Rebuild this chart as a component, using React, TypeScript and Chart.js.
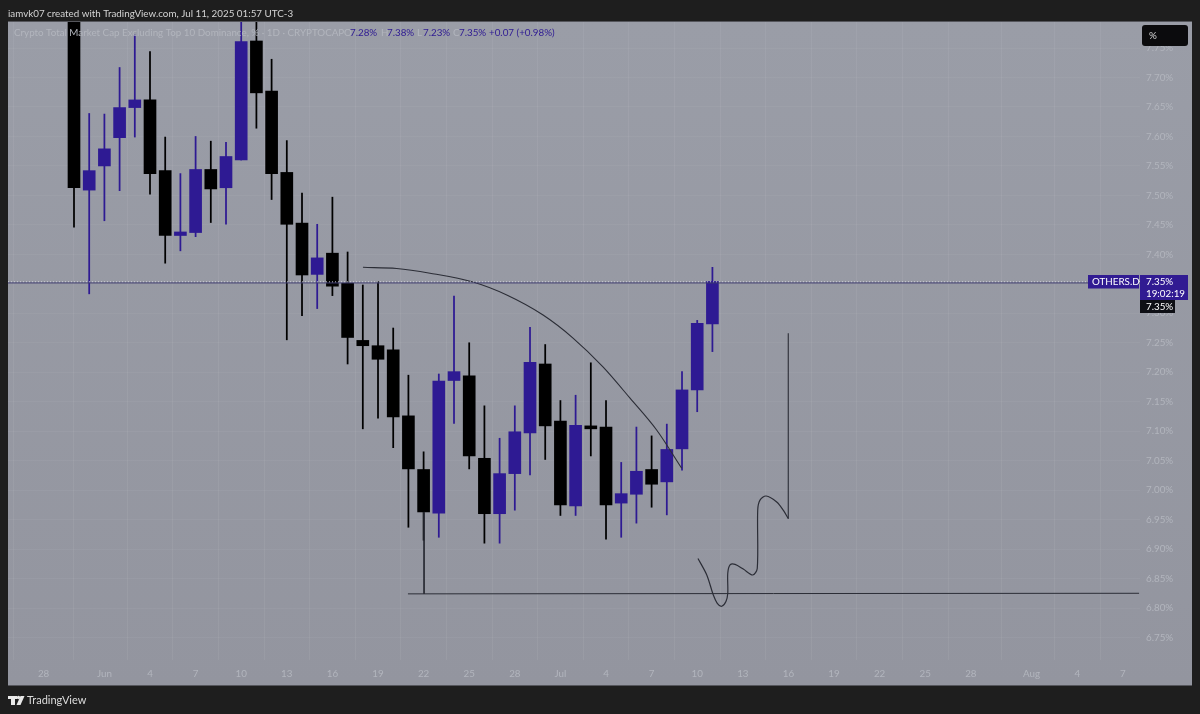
import React, { useEffect, useRef } from "react";
import { Chart, registerables } from "chart.js";

Chart.register(...registerables);

// Days are counted from Jun 1 (0).
const firstDay = -2;
const opens = [7.86, 7.509, 7.55, 7.598, 7.649, 7.662, 7.542, 7.432, 7.437, 7.544, 7.513, 7.56, 7.762, 7.677, 7.539, 7.453, 7.366, 7.402, 7.351, 7.254, 7.245, 7.238, 7.126, 7.035, 6.961, 7.186, 7.194, 7.054, 6.96, 7.028, 7.097, 7.214, 7.117, 6.973, 7.109, 7.107, 6.978, 6.993, 7.035, 7.014, 7.07, 7.17, 7.282];
const closes = [7.513, 7.542, 7.579, 7.649, 7.662, 7.537, 7.432, 7.438, 7.544, 7.511, 7.566, 7.761, 7.674, 7.537, 7.451, 7.365, 7.394, 7.346, 7.259, 7.245, 7.222, 7.124, 7.036, 6.963, 7.185, 7.201, 7.058, 6.96, 7.028, 7.099, 7.217, 7.109, 6.975, 7.11, 7.104, 6.975, 6.994, 7.032, 7.01, 7.069, 7.17, 7.283, 7.354];
const highs = [7.9, 7.639, 7.638, 7.717, 7.772, 7.744, 7.599, 7.537, 7.6, 7.592, 7.59, 7.806, 7.798, 7.731, 7.593, 7.504, 7.451, 7.497, 7.404, 7.348, 7.354, 7.275, 7.195, 7.065, 7.197, 7.329, 7.25, 7.143, 7.088, 7.143, 7.276, 7.247, 7.152, 7.161, 7.216, 7.152, 7.047, 7.107, 7.092, 7.112, 7.201, 7.288, 7.378];
const lows = [7.446, 7.333, 7.457, 7.508, 7.599, 7.502, 7.385, 7.406, 7.43, 7.454, 7.451, 7.56, 7.614, 7.493, 7.255, 7.296, 7.308, 7.33, 7.214, 7.104, 7.122, 7.072, 6.937, 6.915, 6.92, 7.113, 7.036, 6.91, 6.91, 6.966, 7.026, 7.052, 6.957, 6.957, 7.058, 6.917, 6.92, 6.944, 6.971, 6.958, 7.034, 7.133, 7.235];

const arcDays = [17.01, 19.23, 21.42, 24.25, 26.47, 28.86, 30.83, 32.8, 34.58, 36.33, 37.98];
const arcPrices = [7.378, 7.376, 7.368, 7.353, 7.331, 7.297, 7.258, 7.209, 7.156, 7.102, 7.037];
const squiggleDays = [39.05, 39.63, 40.06, 40.32, 40.61, 40.89, 41.01, 41.01, 41.16, 41.49, 42.03, 42.65, 42.95, 42.98, 43.13, 43.53, 44.23, 44.66, 44.98];
const squigglePrices = [6.884, 6.856, 6.822, 6.808, 6.803, 6.811, 6.825, 6.859, 6.873, 6.874, 6.866, 6.856, 6.867, 6.966, 6.983, 6.99, 6.98, 6.966, 6.952];
const riseDays = [44.98, 44.99];
const risePrices = [6.952, 7.266];
const supportDays = [19.97, 68.07];
const supportPrices = [6.824, 6.825];
const stemDays = [21.03, 21.03];
const stemPrices = [6.963, 6.824];
const lastPrice = 7.3515;
const lastPriceDots = 7.3532;

const xMin = -6.342;
const xMax = 68.13;
const yMin = 6.7118;
const yMax = 7.7942;

const xTickDays = [-4, 0, 3, 6, 9, 12, 15, 18, 21, 24, 27, 30, 33, 36, 39, 42, 45, 48, 51, 54, 57, 61, 64, 67];
const xTickLabels = ["28", "Jun", "4", "7", "10", "13", "16", "19", "22", "25", "28", "Jul", "4", "7", "10", "13", "16", "19", "22", "25", "28", "Aug", "4", "7"];
const yTickValues = [7.75, 7.7, 7.65, 7.6, 7.55, 7.5, 7.45, 7.4, 7.35, 7.3, 7.25, 7.2, 7.15, 7.1, 7.05, 7.0, 6.95, 6.9, 6.85, 6.8, 6.75];

const headerText = "iamvk07 created with TradingView.com, Jul 11, 2025 01:57 UTC-3";
const titleText = "Crypto Total Market Cap Excluding Top 10 Dominance, % · 1D · CRYPTOCAP";
const ohlcLetters = ["O", "H", "L", "C"];
const ohlcValues = ["7.28%", "7.38%", "7.23%", "7.35%"];
const changeText = "+0.07 (+0.98%)";
const symbolText = "OTHERS.D";
const priceText = "7.35%";
const countdownText = "19:02:19";
const unitText = "%";
const brandText = "TradingView";

const FONT = 'Lato, "Noto Sans", sans-serif';
const TEXT_SIZE = 9.8;
const PURPLE = "#2e1a93";
const DARK = "#1e1e1e";
const INK = "#2b2d36";
const FAINT = "#b2b5bd";

const toPoints = (xs: number[], ys: number[]) => xs.map((x, i) => ({ x, y: ys[i] }));

const backdrop = {
  id: "backdrop",
  beforeDraw(chart: any) {
    const { ctx, width, height } = chart;
    ctx.save();
    ctx.fillStyle = DARK;
    ctx.fillRect(0, 0, width, height);
    const g = ctx.createLinearGradient(0, 22, 0, 685);
    g.addColorStop(0, "#9a9da7");
    g.addColorStop(1, "#93959f");
    ctx.fillStyle = g;
    ctx.fillRect(8, 22, 1184, 663);
    ctx.fillStyle = "#55565c";
    ctx.fillRect(8, 21, 1184, 1);
    ctx.fillRect(8, 685, 1184, 1);
    ctx.restore();
  },
};

const overlay = {
  id: "overlay",
  afterDraw(chart: any) {
    const { ctx } = chart;
    const text = (s: string, x: number, y: number, color: string, size = TEXT_SIZE) => {
      ctx.font = `${size}px ${FONT}`;
      ctx.fillStyle = color;
      ctx.textAlign = "left";
      ctx.textBaseline = "middle";
      ctx.fillText(s, x, y);
    };
    ctx.save();
    text(headerText, 8, 13.5, "#d4d4d4");
    text(titleText, 14, 33, FAINT);
    const letterX = [344, 381, 417, 453];
    const valueX = [350, 387, 423, 459];
    ohlcValues.forEach((v, i) => {
      text(ohlcLetters[i], letterX[i], 33, FAINT);
      text(v, valueX[i], 33, PURPLE);
    });
    text(changeText, 489, 33, PURPLE);

    // percent button
    ctx.fillStyle = "#0b0b0d";
    ctx.beginPath();
    ctx.roundRect(1142, 25, 46, 21, 3);
    ctx.fill();
    text(unitText, 1149, 36, "#d8d8d8");

    // last price tags
    ctx.fillStyle = "#311b92";
    ctx.fillRect(1088, 275, 51, 13.5);
    ctx.fillRect(1140, 275, 48, 25);
    ctx.fillStyle = "#0e0f15";
    ctx.fillRect(1140, 300, 35, 13);
    text(symbolText, 1092, 282, "#ffffff");
    text(priceText, 1146, 282, "#ffffff");
    text(countdownText, 1146, 293.5, "#ffffff");
    text(priceText, 1146, 307, "#ffffff");

    // brand mark
    ctx.fillStyle = "#e8e8e8";
    ctx.fillRect(8, 696, 9, 3);
    ctx.fillRect(11, 696, 4, 9);
    ctx.beginPath();
    ctx.arc(18.5, 697.5, 1.7, 0, Math.PI * 2);
    ctx.fill();
    ctx.beginPath();
    ctx.moveTo(20.5, 696);
    ctx.lineTo(24.5, 696);
    ctx.lineTo(20.5, 705);
    ctx.lineTo(16.5, 705);
    ctx.closePath();
    ctx.fill();
    text(brandText, 27, 700, "#dcdcdc", 11);
    ctx.restore();
  },
};

export default function App() {
  const ref = useRef<HTMLCanvasElement>(null);
  useEffect(() => {
    const days = opens.map((_, i) => firstDay + i);
    const colors = opens.map((o, i) => (closes[i] >= o ? PURPLE : "#000000"));
    const line = (data: any[], color: string, width: number, mode = "", dash: number[] = []) => ({
      type: "line",
      data,
      borderColor: color,
      borderWidth: width,
      borderDash: dash,
      pointRadius: 0,
      tension: mode === "curve" ? 0.3 : 0,
      cubicInterpolationMode: mode === "monotone" ? "monotone" : "default",
      order: 0,
    });
    const chart = new Chart(ref.current as HTMLCanvasElement, {
      type: "bar",
      data: {
        datasets: [
          {
            data: days.map((x, i) => ({ x, y: [lows[i], highs[i]] })),
            backgroundColor: colors,
            barThickness: 1.1,
            grouped: false,
            order: 2,
          },
          {
            data: days.map((x, i) => ({ x, y: [opens[i], closes[i]] })),
            backgroundColor: colors,
            barThickness: 12,
            grouped: false,
            order: 1,
          },
          line(toPoints([xMin, xMax], [lastPrice, lastPrice]), "#3c3a6e", 1),
          line(toPoints([xMin, xMax], [lastPriceDots, lastPriceDots]), "#e4e4ee", 1, "", [1, 2]),
          line(toPoints(arcDays, arcPrices), INK, 1.1, "monotone"),
          line(toPoints(squiggleDays, squigglePrices), INK, 1.2, "curve"),
          line(toPoints(riseDays, risePrices), INK, 1.1),
          line(toPoints(supportDays, supportPrices), INK, 1),
          line(toPoints(stemDays, stemPrices), INK, 1),
        ] as any,
      },
      options: {
        animation: false,
        responsive: false,
        events: [],
        layout: { padding: { left: 8, top: 22, right: 8, bottom: 29 } },
        plugins: { legend: { display: false }, tooltip: { enabled: false }, title: { display: false } },
        scales: {
          x: {
            type: "linear",
            min: xMin,
            max: xMax,
            offset: false,
            border: { display: false },
            grid: { color: "rgba(255,255,255,0.06)", drawTicks: false },
            afterFit: (s: any) => { s.height = 25; },
            afterBuildTicks: (s: any) => { s.ticks = xTickDays.map((value) => ({ value })); },
            ticks: {
              autoSkip: false,
              maxRotation: 0,
              padding: 8,
              color: FAINT,
              font: { family: FONT, size: TEXT_SIZE },
              callback: (v: any) => xTickLabels[xTickDays.indexOf(v)],
            },
          },
          y: {
            type: "linear",
            position: "right",
            min: yMin,
            max: yMax,
            border: { display: false },
            grid: { color: "rgba(255,255,255,0.045)", drawTicks: false },
            afterFit: (s: any) => { s.width = 52; },
            afterBuildTicks: (s: any) => { s.ticks = yTickValues.map((value) => ({ value })); },
            ticks: {
              autoSkip: false,
              padding: 6,
              color: FAINT,
              font: { family: FONT, size: TEXT_SIZE },
              callback: (v: any) => `${Number(v).toFixed(2)}%`,
            },
          },
        },
      },
      plugins: [backdrop, overlay],
    } as any);
    return () => chart.destroy();
  }, []);
  return (
    <div style={{ position: "fixed", left: 0, top: 0, width: 1200, height: 714 }}>
      <canvas ref={ref} width={1200} height={714} style={{ display: "block" }} />
    </div>
  );
}
